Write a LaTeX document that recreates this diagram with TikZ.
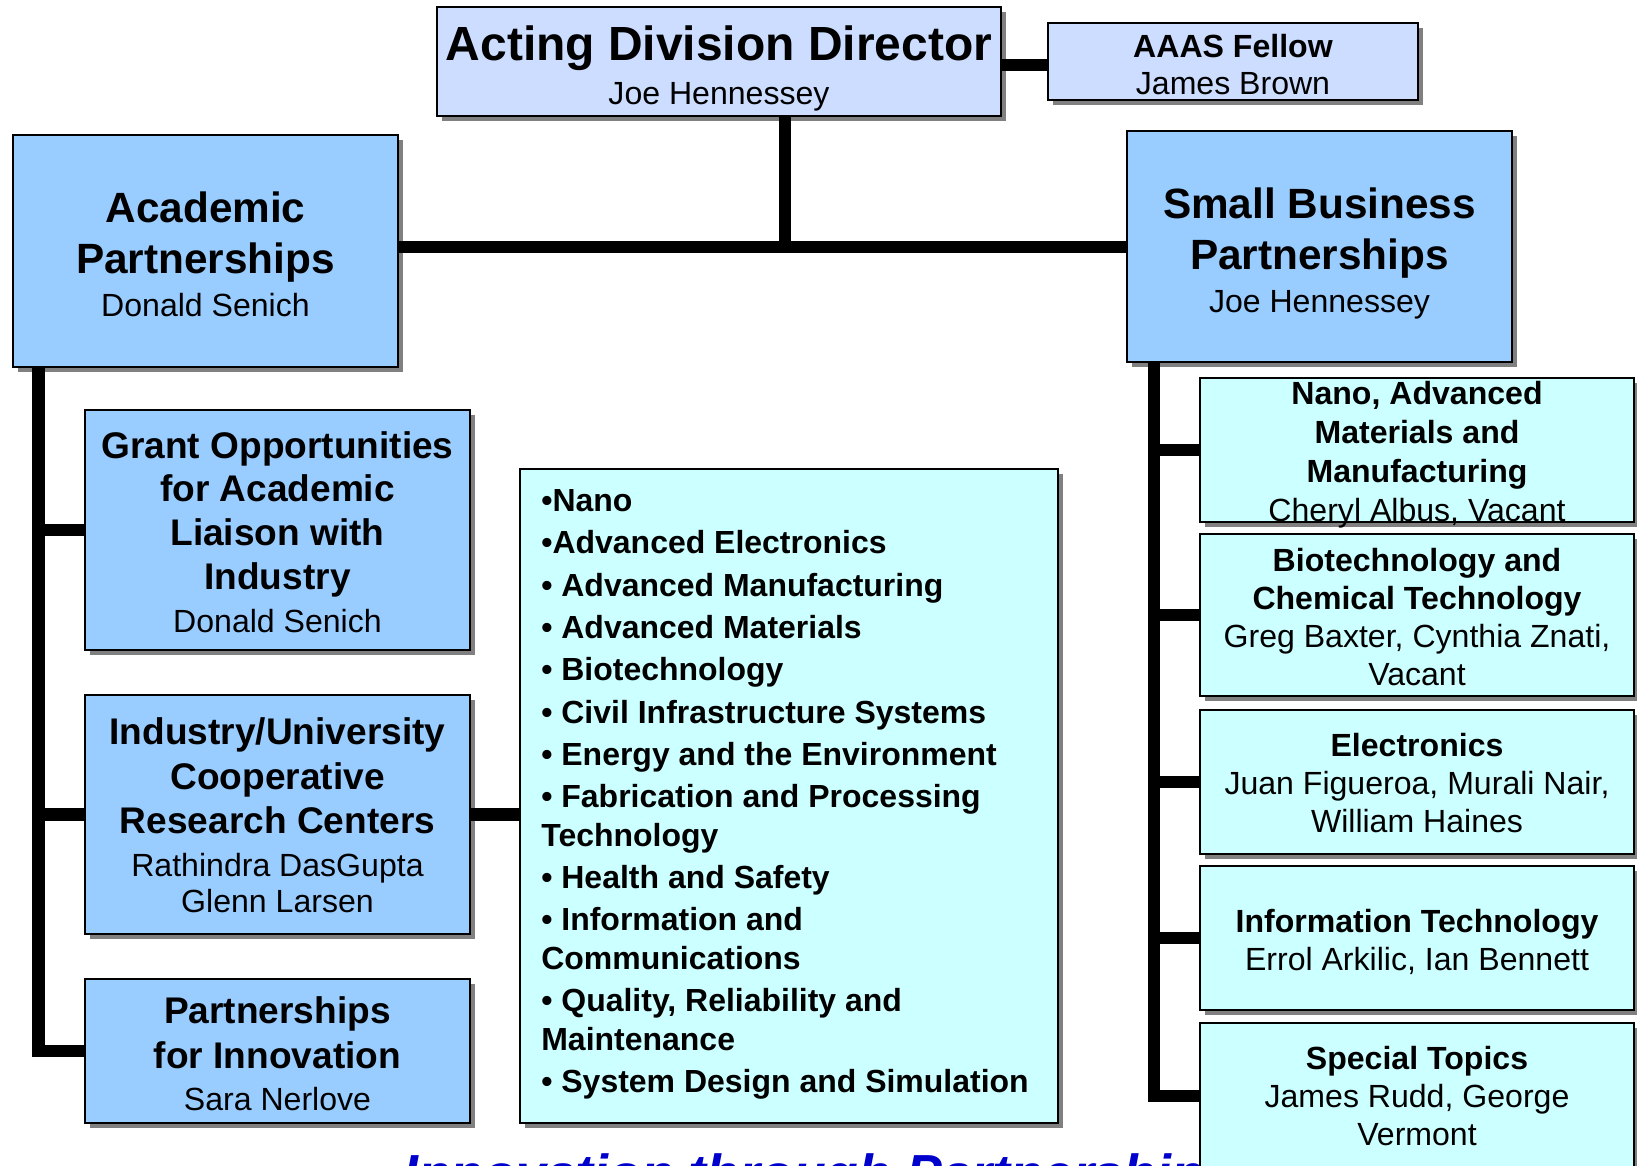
\documentclass[tikz,border=0pt]{standalone}
\usepackage{fontspec}
\setmainfont{Liberation Sans}
\usetikzlibrary{shadows,calc,fit}
\definecolor{lav}{RGB}{204,221,255}
\definecolor{sky}{RGB}{153,204,255}
\definecolor{aqua}{RGB}{204,255,255}
\definecolor{shd}{RGB}{128,128,128}
\definecolor{motto}{RGB}{0,0,204}
\newcommand\fT{\fontsize{27.3}{27.3}\selectfont\bfseries}
\newcommand\fH{\fontsize{24.1}{24.1}\selectfont\bfseries}
\newcommand\fM{\fontsize{21.1}{21.1}\selectfont\bfseries}
\begin{document}
\begin{tikzpicture}[x=0.02cm,y=-0.02cm,
  box/.style={draw=black, line width=1.2pt, inner sep=0pt, outer sep=0pt,
    drop shadow={shadow xshift=2.8pt, shadow yshift=-2.8pt, fill=shd, opacity=1}},
  txt/.style={align=center, inner sep=0pt, text=black},
  conn/.style={line width=7pt, draw=black, line join=miter}]
\useasboundingbox (0,0) rectangle (1637,1166);
\clip (0,0) rectangle (1637,1166);

% motto (partly hidden)
\node[anchor=base, inner sep=0pt, text=motto,
  font=\fontsize{30.5}{30.5}\selectfont\bfseries\itshape] (motto) at (818.5,1192)
  {Innovation through Partnerships};

% boxes
\node[box, fill=lav, fit={(437,7) (1001,116)}] (director) {};
\node[box, fill=lav, fit={(1048,23) (1418,100)}] (aaas) {};
\node[box, fill=sky, fit={(13,135) (398,367)}] (acad) {};
\node[box, fill=sky, fit={(1127,131) (1512,362)}] (sb) {};
\node[box, fill=sky, fit={(85,410) (470,650)}] (grant) {};
\node[box, fill=sky, fit={(85,695) (470,934)}] (iucrc) {};
\node[box, fill=sky, fit={(85,979) (470,1123)}] (pfi) {};
\node[box, fill=aqua, fit={(520,469) (1058,1123)}] (list) {};
\node[box, fill=aqua, fit={(1200,378) (1634,522)}] (nano) {};
\node[box, fill=aqua, fit={(1200,534) (1634,696)}] (bio) {};
\node[box, fill=aqua, fit={(1200,710) (1634,854)}] (elec) {};
\node[box, fill=aqua, fit={(1200,866) (1634,1010)}] (it) {};
\node[box, fill=aqua, fit={(1200,1023) (1634,1169)}] (spec) {};

% texts
\node[txt, font=\fontsize{18.25}{25.5}\selectfont] (directorT) at ($(director)+(0,7)$)
  {{\fT Acting Division Director}\\Joe Hennessey};
\node[txt, font=\fontsize{18.25}{21.3}\selectfont] (aaasT) at ($(aaas)+(0,3)$)
  {{\bfseries AAAS Fellow}\\James Brown};
\node[txt, font=\fontsize{18.25}{24.6}\selectfont] (acadT) at ($(acad)+(0,3)$)
  {{\fH Academic}\\[4.4pt]{\fH Partnerships}\\Donald Senich};
\node[txt, font=\fontsize{18.25}{24.6}\selectfont] (sbT) at ($(sb)+(0,7)$)
  {{\fH Small Business}\\[4.4pt]{\fH Partnerships}\\Joe Hennessey};
\node[txt, font=\fontsize{18.25}{24.3}\selectfont] (grantT) at ($(grant)+(0,2)$)
  {{\fM Grant Opportunities}\\[0.7pt]{\fM for Academic}\\[0.7pt]{\fM Liaison with}\\[0.7pt]{\fM Industry}\\Donald Senich};
\node[txt, font=\fontsize{18.25}{20.7}\selectfont] (iucrcT) at ($(iucrc)+(0,1)$)
  {{\fM Industry/University}\\[4.5pt]{\fM Cooperative}\\[4.5pt]{\fM Research Centers}\\[3.6pt]Rathindra DasGupta\\Glenn Larsen};
\node[txt, font=\fontsize{18.25}{23.7}\selectfont] (pfiT) at ($(pfi)+(0,3)$)
  {{\fM Partnerships}\\[1.9pt]{\fM for Innovation}\\Sara Nerlove};
\node[anchor=north west, align=left, inner sep=0pt,
  font=\fontsize{18.2}{21.9}\selectfont\bfseries] (listT) at (541,489)
  {•Nano\\[2.2pt]
   •Advanced Electronics\\[2.2pt]
   • Advanced Manufacturing\\[2.2pt]
   • Advanced Materials\\[2.2pt]
   • Biotechnology\\[2.2pt]
   • Civil Infrastructure Systems\\[2.2pt]
   • Energy and the Environment\\[2.2pt]
   • Fabrication and Processing\\
   Technology\\[2.2pt]
   • Health and Safety\\[2.2pt]
   • Information and\\
   Communications\\[2.2pt]
   • Quality, Reliability and\\
   Maintenance\\[2.2pt]
   • System Design and Simulation};
\node[txt, font=\fontsize{18.25}{22.2}\selectfont] (nanoT) at ($(nano)+(0,5)$)
  {{\bfseries Nano, Advanced}\\{\bfseries Materials and}\\{\bfseries Manufacturing}\\Cheryl Albus, Vacant};
\node[txt, font=\fontsize{18.25}{21.7}\selectfont] (bioT) at ($(bio)+(0,2)$)
  {{\bfseries Biotechnology and}\\{\bfseries Chemical Technology}\\Greg Baxter, Cynthia Znati,\\Vacant};
\node[txt, font=\fontsize{18.25}{21.7}\selectfont] (elecT) at ($(elec)+(0,1)$)
  {{\bfseries Electronics}\\Juan Figueroa, Murali Nair,\\William Haines};
\node[txt, font=\fontsize{18.25}{21.7}\selectfont] (itT) at ($(it)+(0,4)$)
  {{\bfseries Information Technology}\\Errol Arkilic, Ian Bennett};
\node[txt, font=\fontsize{18.25}{21.7}\selectfont] (specT) at (spec)
  {{\bfseries Special Topics}\\James Rudd, George\\Vermont};

% connectors
\coordinate (jt) at (785,247);
\coordinate (ls) at (38.6,0);
\coordinate (rs) at (1154,0);
\draw[conn] ($(director.east)+(0,3.5)$) -- ($(aaas.west)+(0,3.5)$);
\draw[conn] (director.south -| jt) -- (jt);
\draw[conn] (acad.east |- jt) -- (sb.west |- jt);
\draw[conn] (acad.south -| ls) |- (pfi.west);
\draw[conn] (grant.west -| ls) -- (grant.west);
\draw[conn] (iucrc.west -| ls) -- (iucrc.west);
\draw[conn] (iucrc.east) -- (list.west |- iucrc.east);
\draw[conn] (sb.south -| rs) |- (spec.west);
\draw[conn] (nano.west -| rs) -- (nano.west);
\draw[conn] (bio.west -| rs) -- (bio.west);
\draw[conn] (elec.west -| rs) -- (elec.west);
\draw[conn] (it.west -| rs) -- (it.west);
\end{tikzpicture}
\end{document}
